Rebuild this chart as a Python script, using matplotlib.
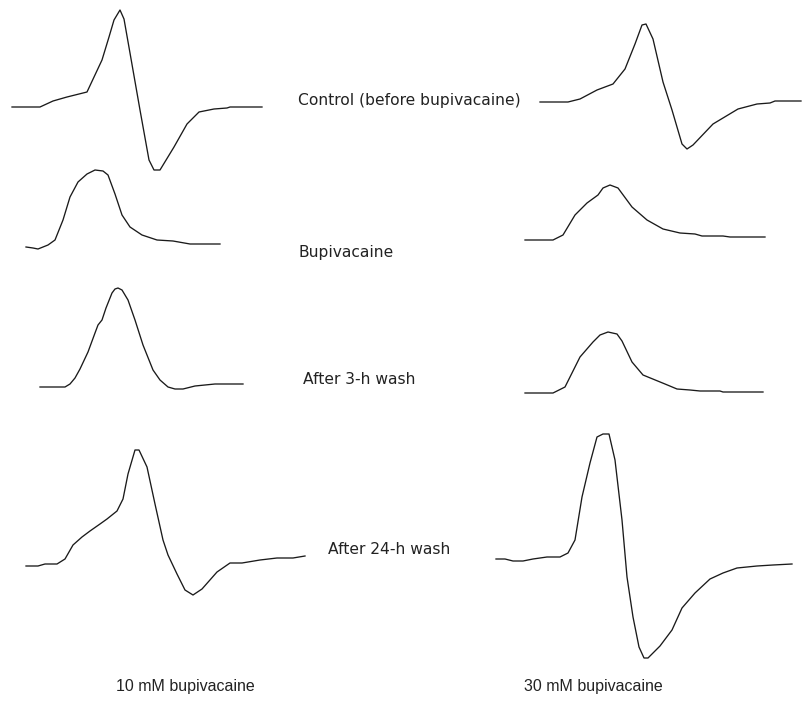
import matplotlib
matplotlib.use("Agg")
import matplotlib.pyplot as plt
import matplotlib.transforms as mtransforms

# --- recorded traces (time in sample units, amplitude in arbitrary units, baseline = 0) ---

# 10 mM bupivacaine
ctrl_10_t = [0, 28, 41, 55, 75, 90, 97, 102, 108, 112, 118, 128, 137, 142, 148, 162, 175, 187, 202, 215, 218, 250]
ctrl_10_v = [0, 0, 6, 10, 15, 47, 70, 87, 97, 88, 54, -3, -53, -63, -63, -40, -17, -5, -2, -1, 0, 0]

bupi_10_t = [0, 7, 12, 22, 29, 37, 44, 52, 61, 69, 77, 82, 89, 96, 104, 116, 131, 147, 164, 194]
bupi_10_v = [0, -1, -2, 2, 7, 27, 50, 65, 73, 77, 76, 72, 53, 32, 20, 12, 7, 6, 3, 3]

wash3_10_t = [0, 25, 30, 35, 40, 48, 55, 58, 62, 66, 72, 75, 78, 82, 88, 95, 103, 113, 120, 128, 135, 143, 155, 165, 175, 203]
wash3_10_v = [0, 0, 3, 9, 18, 35, 54, 62, 67, 79, 94, 98, 99, 97, 87, 67, 42, 17, 7, 0, -2, -2, 1, 2, 3, 3]

wash24_10_t = [0, 12, 19, 31, 39, 47, 56, 64, 74, 81, 91, 97, 102, 109, 113, 121, 129, 137, 142, 151, 159, 167, 176, 191, 204, 216, 234, 251, 267, 279]
wash24_10_v = [0, 0, 2, 2, 7, 21, 29, 35, 42, 47, 55, 67, 92, 116, 116, 99, 62, 26, 11, -8, -24, -29, -23, -6, 3, 3, 6, 8, 8, 10]

# 30 mM bupivacaine
ctrl_30_t = [0, 28, 40, 57, 73, 85, 95, 102, 106, 113, 123, 132, 142, 147, 153, 173, 188, 198, 217, 230, 235, 261]
ctrl_30_v = [0, 0, 3, 12, 18, 33, 58, 77, 78, 63, 20, -8, -42, -47, -43, -22, -13, -7, -2, -1, 1, 1]

bupi_30_t = [0, 28, 38, 50, 62, 73, 78, 85, 93, 107, 122, 138, 155, 170, 177, 198, 205, 240]
bupi_30_v = [0, 0, 5, 25, 37, 45, 52, 55, 52, 33, 20, 11, 7, 6, 4, 4, 3, 3]

wash3_30_t = [0, 28, 40, 55, 68, 75, 83, 92, 97, 107, 118, 140, 152, 165, 175, 195, 198, 238]
wash3_30_v = [0, 0, 6, 36, 51, 58, 61, 59, 52, 31, 18, 9, 4, 3, 2, 2, 1, 1]

wash24_30_t = [0, 9, 17, 27, 37, 51, 64, 72, 79, 86, 94, 101, 107, 113, 119, 126, 131, 137, 143, 148, 152, 164, 176, 186, 199, 214, 227, 241, 261, 277, 296]
wash24_30_v = [0, 0, -2, -2, 0, 2, 2, 6, 19, 62, 96, 122, 125, 125, 99, 39, -18, -58, -88, -99, -99, -87, -71, -49, -34, -20, -14, -9, -7, -6, -5]

row_labels = ["Control (before bupivacaine)", "Bupivacaine", "After 3-h wash", "After 24-h wash"]
column_labels = ["10 mM bupivacaine", "30 mM bupivacaine"]

# --- layout (figure pixel positions of each trace start / baseline) ---
traces = [
    (ctrl_10_t, ctrl_10_v, 12, 107),
    (bupi_10_t, bupi_10_v, 26, 247),
    (wash3_10_t, wash3_10_v, 40, 387),
    (wash24_10_t, wash24_10_v, 26, 566),
    (ctrl_30_t, ctrl_30_v, 540, 102),
    (bupi_30_t, bupi_30_v, 525, 240),
    (wash3_30_t, wash3_30_v, 525, 393),
    (wash24_30_t, wash24_30_v, 496, 559),
]
row_label_pos = [(298, 101), (298, 252), (303, 380), (328, 550)]
column_label_pos = [(185, 686), (593, 686)]

fig = plt.figure(figsize=(8.02, 7.02), dpi=100)
ax = fig.add_axes([0, 0, 1, 1])
ax.set_xlim(0, 802)
ax.set_ylim(702, 0)
ax.axis("off")

for t, v, x0, base in traces:
    tr = mtransforms.Affine2D().scale(1, -1).translate(x0, base) + ax.transData
    ax.plot(t, v, color="#1a1a1a", lw=0.95, transform=tr, solid_joinstyle="round")

for label, (x, y) in zip(row_labels, row_label_pos):
    ax.text(x, y, label, fontsize=11.2, color="#222222", ha="left", va="center",
            family="DejaVu Sans")

for label, (x, y) in zip(column_labels, column_label_pos):
    ax.text(x, y, label, fontsize=11.5, color="#222222", ha="center", va="center",
            family="Liberation Sans")

fig.savefig("out.png", dpi=100)
